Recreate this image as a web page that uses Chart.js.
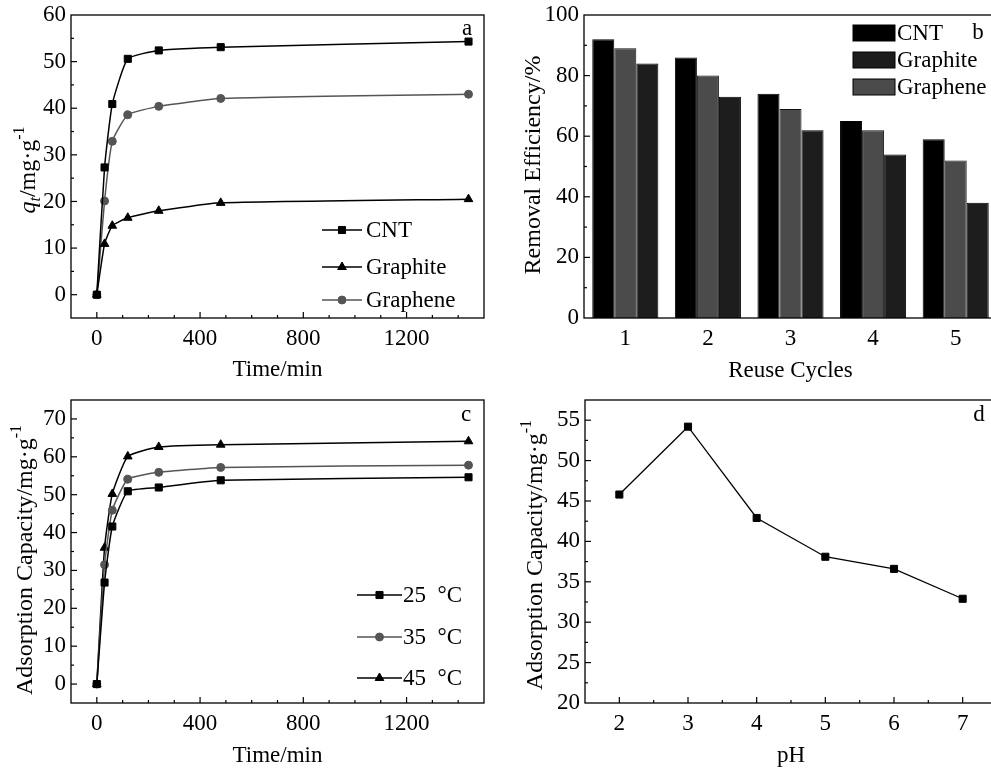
<!DOCTYPE html>
<html>
<head>
<meta charset="utf-8">
<script src="https://cdn.jsdelivr.net/npm/chart.js@4.4.1/dist/chart.umd.min.js"></script>
<style>
html, body { margin: 0; padding: 0; background: #fff; overflow: hidden; width: 991px; height: 772px; }
canvas { position: absolute; }
</style>
</head>
<body>
<canvas id="chart-a" width="495" height="386" style="left:0;top:0"></canvas>
<canvas id="chart-b" width="520" height="386" style="left:490px;top:0"></canvas>
<canvas id="chart-c" width="495" height="386" style="left:0;top:386px"></canvas>
<canvas id="chart-d" width="520" height="386" style="left:490px;top:386px"></canvas>
<script>
// ---- datos ----
const timeMin = [0, 30, 60, 120, 240, 480, 1440];
const qCNT = [0, 27.3, 40.9, 50.6, 52.4, 53.1, 54.3];
const qGraphite = [0, 10.9, 14.8, 16.5, 18.0, 19.7, 20.5];
const qGraphene = [0, 20.1, 32.9, 38.6, 40.4, 42.1, 43.0];

const cycles = ['1', '2', '3', '4', '5'];
const effCNT = [92, 86, 74, 65, 59];
const effGraphene = [89, 80, 69, 62, 52];
const effGraphite = [84, 73, 62, 54, 38];

const q25 = [0, 26.8, 41.6, 50.9, 51.9, 53.8, 54.6];
const q35 = [0, 31.5, 45.9, 54.1, 55.9, 57.2, 57.8];
const q45 = [0, 36.0, 50.2, 60.1, 62.6, 63.2, 64.1];

const phValues = [2, 3, 4, 5, 6, 7];
const qByPH = [45.8, 54.2, 42.9, 38.1, 36.6, 32.9];

const timeTicks = [0, 400, 800, 1200];
const ticksA = [0, 10, 20, 30, 40, 50, 60];
const ticksB = [0, 20, 40, 60, 80, 100];
const ticksC = [0, 10, 20, 30, 40, 50, 60, 70];
const ticksD = [20, 25, 30, 35, 40, 45, 50, 55];

const FONT = '"Liberation Serif", "Times New Roman", serif';
Chart.defaults.font.family = FONT;
Chart.defaults.font.size = 23;
Chart.defaults.color = '#000';
Chart.defaults.animation = false;

const GREY = '#555555';

function pts(xs, ys) {
    return xs.map((x, i) => ({ x, y: ys[i] }));
}

// ticks hacia dentro, marco, leyenda, letra del panel y título del eje Y
const decor = {
    id: 'decor',
    afterDraw(chart, args, o) {
        const ctx = chart.ctx, a = chart.chartArea;
        ctx.save();
        ctx.strokeStyle = '#000';
        ctx.fillStyle = '#000';

        for (const id of ['x', 'y']) {
            const minor = o.minor ? o.minor[id] : undefined;
            if (minor === undefined) continue;
            const s = chart.scales[id];
            const majors = s.ticks.map(t => t.value);
            const tick = (v, len) => {
                const p = s.getPixelForValue(v);
                if (id === 'x' ? (p < a.left + 2 || p > a.right - 2) : (p < a.top + 2 || p > a.bottom - 2)) return;
                ctx.beginPath();
                if (id === 'x') { ctx.moveTo(p, a.bottom); ctx.lineTo(p, a.bottom - len); }
                else { ctx.moveTo(a.left, p); ctx.lineTo(a.left + len, p); }
                ctx.stroke();
            };
            ctx.lineWidth = 1.2;
            majors.forEach(v => tick(v, 6));
            if (minor > 0) {
                for (let v = Math.ceil(s.min / minor) * minor; v <= s.max + 1e-9; v += minor) {
                    if (!majors.some(m => Math.abs(m - v) < 1e-6)) tick(v, 3);
                }
            }
        }

        ctx.lineWidth = 1.3;
        ctx.strokeRect(a.left, a.top, a.right - a.left, a.bottom - a.top);

        // leyenda
        const lg = o.legend;
        if (lg) {
            ctx.font = '23px ' + FONT;
            ctx.textBaseline = 'middle';
            ctx.textAlign = 'left';
            lg.order.forEach((idx, i) => {
                const ds = chart.data.datasets[idx];
                const y = lg.rows[i];
                if (lg.kind === 'line') {
                    ctx.strokeStyle = ds.borderColor;
                    ctx.lineWidth = ds.borderWidth;
                    ctx.beginPath();
                    ctx.moveTo(lg.x1, y);
                    ctx.lineTo(lg.x2, y);
                    ctx.stroke();
                    ctx.fillStyle = ds.pointBackgroundColor;
                    ctx.strokeStyle = ds.pointBorderColor;
                    ctx.lineWidth = 1;
                    Chart.helpers.drawPoint(ctx, { pointStyle: ds.pointStyle, radius: ds.pointRadius, rotation: 0, borderWidth: 1 }, (lg.x1 + lg.x2) / 2, y);
                } else {
                    ctx.fillStyle = ds.backgroundColor;
                    ctx.fillRect(lg.x1, y - lg.h / 2, lg.x2 - lg.x1, lg.h);
                    ctx.strokeStyle = '#000';
                    ctx.lineWidth = 1;
                    ctx.strokeRect(lg.x1, y - lg.h / 2, lg.x2 - lg.x1, lg.h);
                }
                ctx.fillStyle = '#000';
                ctx.fillText(lg.labels ? lg.labels[i] : ds.label, lg.tx, y + 1);
            });
        }

        // letra del panel
        if (o.letter) {
            ctx.fillStyle = '#000';
            ctx.font = '23px ' + FONT;
            ctx.textAlign = 'center';
            ctx.textBaseline = 'middle';
            ctx.fillText(o.letter.text, o.letter.x, o.letter.y);
        }

        // título del eje Y con sub/superíndices
        if (o.yTitle) {
            const t = o.yTitle, size = 24;
            const fontOf = sg => (sg.italic ? 'italic ' : '') + Math.round(size * (sg.sub || sg.sup ? 0.65 : 1)) + 'px ' + FONT;
            let total = 0;
            const widths = t.parts.map(sg => { ctx.font = fontOf(sg); const w = ctx.measureText(sg.text).width; total += w; return w; });
            ctx.translate(t.x, t.y);
            ctx.rotate(-Math.PI / 2);
            ctx.textAlign = 'left';
            ctx.textBaseline = 'alphabetic';
            ctx.fillStyle = '#000';
            let cx = -total / 2;
            const base = size * 0.33;
            t.parts.forEach((sg, i) => {
                ctx.font = fontOf(sg);
                const dy = sg.sub ? size * 0.2 : (sg.sup ? -size * 0.45 : 0);
                ctx.fillText(sg.text, cx, base + dy);
                cx += widths[i];
            });
        }
        ctx.restore();
    }
};

function yAxis(min, max, ticks, width) {
    return {
        type: 'linear', min, max,
        grid: { display: false, drawTicks: false }, border: { display: false },
        ticks: { padding: 5, callback: v => String(v) },
        afterBuildTicks: s => { s.ticks = ticks.map(v => ({ value: v })); },
        afterFit: s => { s.width = width; s.paddingTop = 0; s.paddingBottom = 0; }
    };
}

function xAxis(min, max, ticks, height, title) {
    return {
        type: 'linear', min, max,
        grid: { display: false, drawTicks: false }, border: { display: false },
        ticks: { padding: 7, maxRotation: 0, autoSkip: false, callback: v => String(v) },
        afterBuildTicks: s => { s.ticks = ticks.map(v => ({ value: v })); },
        afterFit: s => { s.height = height; s.paddingLeft = 0; s.paddingRight = 0; },
        title: { display: true, text: title, padding: { top: 0, bottom: 2 }, font: { size: 23 } }
    };
}

function lineSet(label, data, color, style, radius) {
    return {
        label, data,
        borderColor: color, borderWidth: 1.5,
        pointStyle: style, pointRadius: radius,
        pointBackgroundColor: color, pointBorderColor: color, pointBorderWidth: 1,
        tension: 0.15, fill: false
    };
}

// ---- a ----
const ctxA = document.getElementById('chart-a').getContext('2d');
new Chart(ctxA, {
    type: 'line',
    data: {
        datasets: [
            lineSet('CNT', pts(timeMin, qCNT), '#000', 'rect', 5),
            lineSet('Graphite', pts(timeMin, qGraphite), '#000', 'triangle', 5),
            lineSet('Graphene', pts(timeMin, qGraphene), GREY, 'circle', 4)
        ]
    },
    options: {
        responsive: false,
        layout: { padding: { top: 15, right: 11, left: 0, bottom: 0 } },
        scales: { x: xAxis(-100, 1500, timeTicks, 68, 'Time/min'), y: yAxis(-5, 60, ticksA, 71) },
        plugins: {
            legend: { display: false }, tooltip: { enabled: false },
            decor: {
                minor: { x: 100, y: 5 },
                legend: { kind: 'line', order: [0, 1, 2], rows: [230, 267, 300], x1: 322, x2: 362, tx: 366 },
                letter: { text: 'a', x: 467, y: 29 },
                yTitle: { x: 27, y: 170, parts: [{ text: 'q', italic: true }, { text: 't', italic: true, sub: true }, { text: '/mg·g' }, { text: '-1', sup: true }] }
            }
        }
    },
    plugins: [decor]
});

// ---- b ----
const ctxB = document.getElementById('chart-b').getContext('2d');
new Chart(ctxB, {
    type: 'bar',
    data: {
        labels: cycles,
        datasets: [
            { label: 'CNT', data: effCNT, backgroundColor: '#000000', borderColor: '#000', borderWidth: 1 },
            { label: 'Graphene', data: effGraphene, backgroundColor: '#4b4b4b', borderColor: '#111', borderWidth: 1 },
            { label: 'Graphite', data: effGraphite, backgroundColor: '#1d1d1d', borderColor: '#000', borderWidth: 1 }
        ]
    },
    options: {
        responsive: false,
        categoryPercentage: 0.8, barPercentage: 1.0,
        layout: { padding: { top: 15, right: 13, left: 0, bottom: 0 } },
        scales: {
            x: {
                type: 'category',
                grid: { display: false, drawTicks: false }, border: { display: false },
                ticks: { padding: 7, maxRotation: 0, autoSkip: false },
                afterFit: s => { s.height = 68; s.paddingLeft = 0; s.paddingRight = 0; },
                title: { display: true, text: 'Reuse Cycles', padding: { top: 0, bottom: 1 }, font: { size: 23 } }
            },
            y: yAxis(0, 100, ticksB, 94)
        },
        plugins: {
            legend: { display: false }, tooltip: { enabled: false },
            decor: {
                minor: { y: 10 },
                legend: { kind: 'box', order: [0, 2, 1], rows: [33, 60, 87], x1: 363, x2: 405, h: 16, tx: 407 },
                letter: { text: 'b', x: 488, y: 33 },
                yTitle: { x: 42, y: 165, parts: [{ text: 'Removal Efficiency/%' }] }
            }
        }
    },
    plugins: [decor]
});

// ---- c ----
const ctxC = document.getElementById('chart-c').getContext('2d');
new Chart(ctxC, {
    type: 'line',
    data: {
        datasets: [
            lineSet('25  °C', pts(timeMin, q25), '#000', 'rect', 5),
            lineSet('35  °C', pts(timeMin, q35), GREY, 'circle', 4),
            lineSet('45  °C', pts(timeMin, q45), '#000', 'triangle', 5)
        ]
    },
    options: {
        responsive: false,
        layout: { padding: { top: 14, right: 11, left: 0, bottom: 0 } },
        scales: { x: xAxis(-100, 1500, timeTicks, 69, 'Time/min'), y: yAxis(-5, 75, ticksC, 71) },
        plugins: {
            legend: { display: false }, tooltip: { enabled: false },
            decor: {
                minor: { x: 100, y: 5 },
                legend: { kind: 'line', order: [0, 1, 2], rows: [209, 251, 292], x1: 357, x2: 402, tx: 403 },
                letter: { text: 'c', x: 466, y: 29 },
                yTitle: { x: 24, y: 174, parts: [{ text: 'Adsorption Capacity/mg·g' }, { text: '-1', sup: true }] }
            }
        }
    },
    plugins: [decor]
});

// ---- d ----
const ctxD = document.getElementById('chart-d').getContext('2d');
new Chart(ctxD, {
    type: 'line',
    data: {
        datasets: [
            { label: 'pH', data: pts(phValues, qByPH), borderColor: '#000', borderWidth: 1.3, pointStyle: 'rect', pointRadius: 5,
              pointBackgroundColor: '#000', pointBorderColor: '#000', pointBorderWidth: 1, fill: false }
        ]
    },
    options: {
        responsive: false,
        layout: { padding: { top: 14, right: 13, left: 0, bottom: 0 } },
        scales: { x: xAxis(1.5, 7.5, phValues, 69, 'pH'), y: yAxis(20, 57.5, ticksD, 95) },
        plugins: {
            legend: { display: false }, tooltip: { enabled: false },
            decor: {
                minor: { x: 0.5, y: 2.5 },
                letter: { text: 'd', x: 489, y: 29 },
                yTitle: { x: 44, y: 169, parts: [{ text: 'Adsorption Capacity/mg·g' }, { text: '-1', sup: true }] }
            }
        }
    },
    plugins: [decor]
});
</script>
</body>
</html>
